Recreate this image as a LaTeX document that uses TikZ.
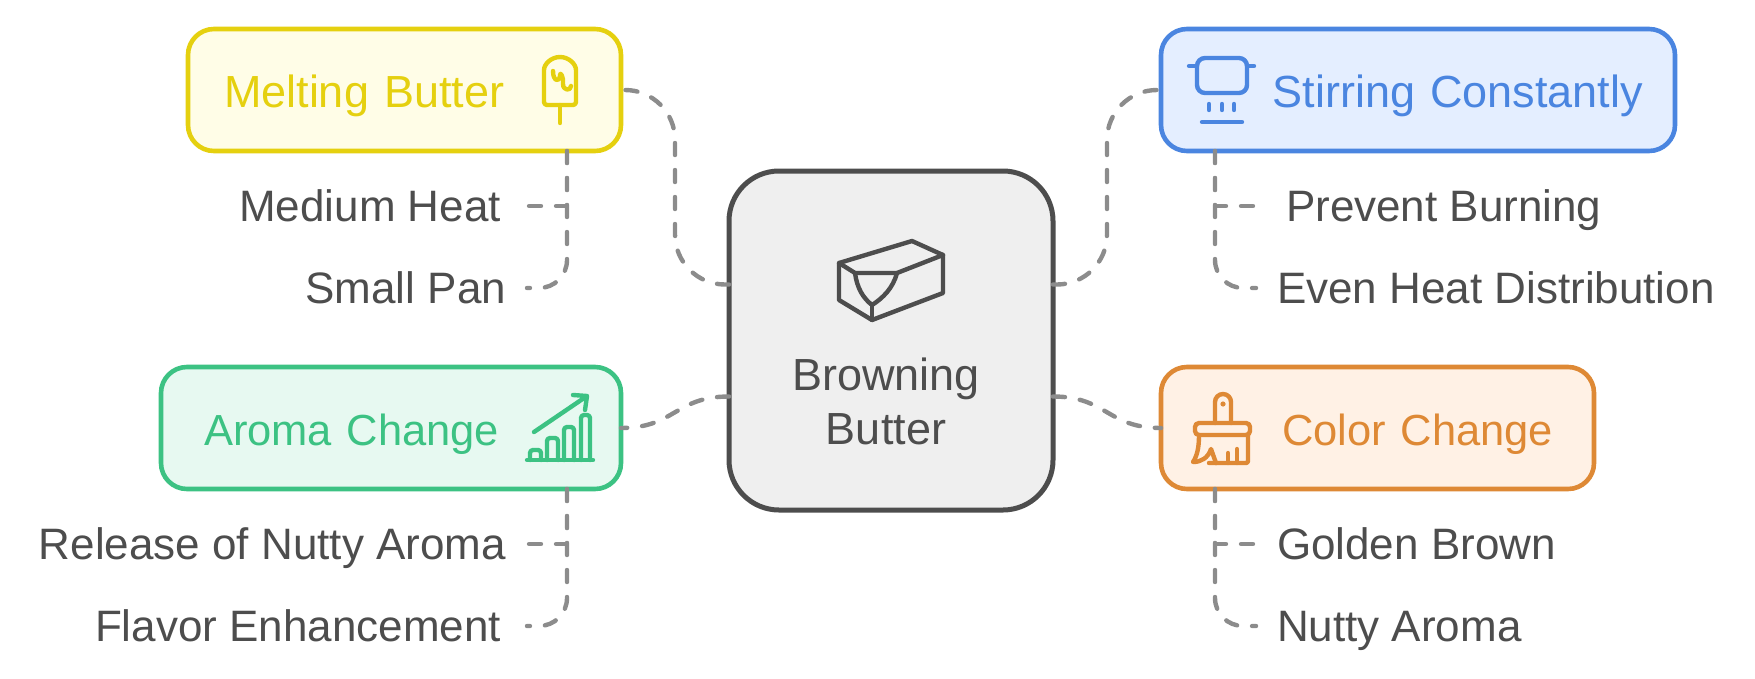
\documentclass[tikz,border=0pt]{standalone}
\usepackage{fontspec}
\setmainfont{Liberation Sans}
\usetikzlibrary{positioning}

\definecolor{yellowline}{HTML}{E5D00F}
\definecolor{yellowfill}{HTML}{FFFDE7}
\definecolor{blueline}{HTML}{4A85E0}
\definecolor{bluefill}{HTML}{E4EEFF}
\definecolor{greenline}{HTML}{3CC283}
\definecolor{greenfill}{HTML}{E7F9F1}
\definecolor{orangeline}{HTML}{DE8935}
\definecolor{orangefill}{HTML}{FFF1E5}
\definecolor{darkline}{HTML}{4D4D4D}
\definecolor{darkfill}{HTML}{EFEFEF}
\definecolor{linkline}{HTML}{8C8C8C}

\begin{document}
\begin{tikzpicture}
    [x = 1pt, y = -1pt, line join=round, line cap=round,
      every node/.style={font=\fontsize{45}{54}\selectfont},
      card/.style = {rectangle, outer sep=0pt, line width=4.6pt, rounded corners=26pt,
        minimum height=122pt, inner ysep=0pt, text height=43pt, text depth=9pt},
      sublabel/.style = {font=\fontsize{44}{54}\selectfont, text=darkline, text height=39pt,
        text depth=9pt, inner ysep=0pt, inner xsep=21pt, outer sep=0pt},
      link/.style = {draw=linkline, line width=4.4pt, dash pattern=on 12pt off 15pt},
      icon/.style = {line width=4.4pt}]

    \useasboundingbox (0,0) rectangle (1755,678);

    \node (brown) [rectangle, draw=darkline, fill=darkfill, line width=5pt, outer sep=0pt,
      rounded corners=50pt, minimum width=324pt, minimum height=339pt] at (891,340.5) {};
    \node (brownlabel) [text=darkline, align=center, inner sep=0pt, xshift=-5pt,
      above = 64.5pt of brown.south]
    {Browning\\Butter};
    \coordinate [above = 56pt of brown.west] (brownnw);
    \coordinate [below = 56pt of brown.west] (brownsw);
    \coordinate [above = 56pt of brown.east] (brownne);
    \coordinate [below = 56pt of brown.east] (brownse);

    \node (melt) [card, draw=yellowline, fill=yellowfill, text=yellowline, align=left,
      inner xsep=36pt, text width=361pt, above left = 20pt and 108pt of brown.north west]
    {Melting Butter};
    \node (stir) [card, draw=blueline, fill=bluefill, text=blueline, align=right,
      inner xsep=32pt, text width=450pt, above right = 20pt and 108pt of brown.north east]
    {Stirring Constantly};
    \node (aroma) [card, draw=greenline, fill=greenfill, text=greenline, align=left,
      font=\fontsize{43.5}{54}\selectfont,
      inner xsep=43pt, text width=374pt, below left = 216pt and 0pt of melt.south east]
    {Aroma Change};
    \node (color) [card, draw=orangeline, fill=orangefill, text=orangeline, align=right,
      font=\fontsize{43.5}{54}\selectfont,
      inner xsep=41pt, text width=351pt, below right = 216pt and 0pt of stir.south west]
    {Color Change};

    \coordinate [left = 54pt of melt.south east] (meltfoot);
    \coordinate [right = 54pt of stir.south west] (stirfoot);
    \coordinate [left = 54pt of aroma.south east] (aromafoot);
    \coordinate [right = 54pt of color.south west] (colorfoot);

    \node (heat) [sublabel, inner xsep=26pt, below left = 31pt and 40pt of meltfoot] {Medium Heat};
    \node (pan) [sublabel, below left = 34pt and 0pt of heat.south east] {Small Pan};
    \node (burn) [sublabel, inner xsep=30pt, below right = 31pt and 41pt of stirfoot] {Prevent Burning};
    \node (even) [sublabel, below right = 34pt and 0pt of burn.south west] {Even Heat Distribution};
    \node (nutty) [sublabel, below left = 31pt and 40pt of aromafoot] {Release of Nutty Aroma};
    \node (flavor) [sublabel, inner xsep=26pt, below left = 34pt and 0pt of nutty.south east] {Flavor Enhancement};
    \node (golden) [sublabel, below right = 31pt and 41pt of colorfoot] {Golden Brown};
    \node (nuttyb) [sublabel, below right = 34pt and 0pt of golden.south west] {Nutty Aroma};

    \draw [link, rounded corners=50pt] (brownnw) -- ++(-54,0) |- (melt.east);
    \draw [link, rounded corners=50pt] (brownne) -- ++(54,0) |- (stir.west);
    \draw [link] (brownsw) .. controls +(-54,0) and +(54,0) .. (aroma.east);
    \draw [link] (brownse) .. controls +(54,0) and +(-54,0) .. (color.west);

    \draw [link] (meltfoot) |- (heat.east);
    \draw [link, rounded corners=28pt] (meltfoot) |- (pan.east);
    \draw [link] (stirfoot) |- (burn.west);
    \draw [link, rounded corners=28pt] (stirfoot) |- (even.west);
    \draw [link] (aromafoot) |- (nutty.east);
    \draw [link, rounded corners=28pt] (aromafoot) |- (flavor.east);
    \draw [link] (colorfoot) |- (golden.west);
    \draw [link, rounded corners=28pt] (colorfoot) |- (nuttyb.west);

    \draw [icon, draw=yellowline, rounded corners=3pt] (544,105) -- (576,105) -- (576,73)
      arc (0:-180:16) -- cycle;
    \draw [icon, draw=yellowline] (560,105) -- (560,123);
    \draw [icon, draw=yellowline] (553,71) .. controls (553,82) and (560,82) .. (560,76)
      .. controls (560,70) and (564,78) .. (563,84) .. controls (563,91) and (571,91) .. (571,86);

    \draw [icon, draw=blueline, rounded corners=8pt] (1197,58) -- (1247,58) -- (1247,93)
      -- (1197,93) -- cycle;
    \draw [icon, draw=blueline] (1189,66) -- (1197,66) (1247,66) -- (1254,66);
    \draw [icon, draw=blueline] (1209,104) -- (1209,110) (1222,104) -- (1222,110)
      (1234,104) -- (1234,110) (1202,122) -- (1242,122);

    \draw [icon, draw=greenline] (527,460) -- (593,460);
    \draw [icon, draw=greenline, rounded corners=3pt] (530,460) -- (530,450) -- (541,450) -- (541,460)
      (547,460) -- (547,438) -- (558,438) -- (558,460)
      (564,460) -- (564,427) -- (574,427) -- (574,460)
      (581,460) -- (581,415) -- (590,415) -- (590,460);
    \draw [icon, draw=greenline] (534,432) -- (587,396) (573,395) -- (587,396) -- (585,410);

    \draw [icon, draw=orangeline] (1215,423) -- (1215,402) arc (180:360:8) -- (1231,423);
    \fill [orangeline] (1223,404) circle (2.6);
    \draw [icon, draw=orangeline, rounded corners=4pt] (1195,423) -- (1250,423) -- (1250,435)
      -- (1195,435) -- cycle;
    \draw [icon, draw=orangeline, rounded corners=2pt] (1248,435) -- (1248,463) -- (1209,463);
    \draw [icon, draw=orangeline] (1199,435) .. controls (1199,448) and (1197,456) .. (1193,462)
      .. controls (1201,462) and (1208,458) .. (1211,449) -- (1216,463);
    \draw [icon, draw=orangeline] (1228,463) -- (1228,453) (1237,463) -- (1237,449);

    \draw [icon, draw=darkline] (839,263) -- (912,241) -- (943,255) -- (943,293) -- (872,320)
      -- (839,300) -- cycle;
    \draw [icon, draw=darkline] (839,263) -- (855,273) -- (897,273) -- (943,255);
    \draw [icon, draw=darkline] (855,273) .. controls (857,288) and (863,298) .. (872,305)
      .. controls (883,298) and (893,288) .. (897,273);
    \draw [icon, draw=darkline] (872,305) -- (872,320);
\end{tikzpicture}
\end{document}
